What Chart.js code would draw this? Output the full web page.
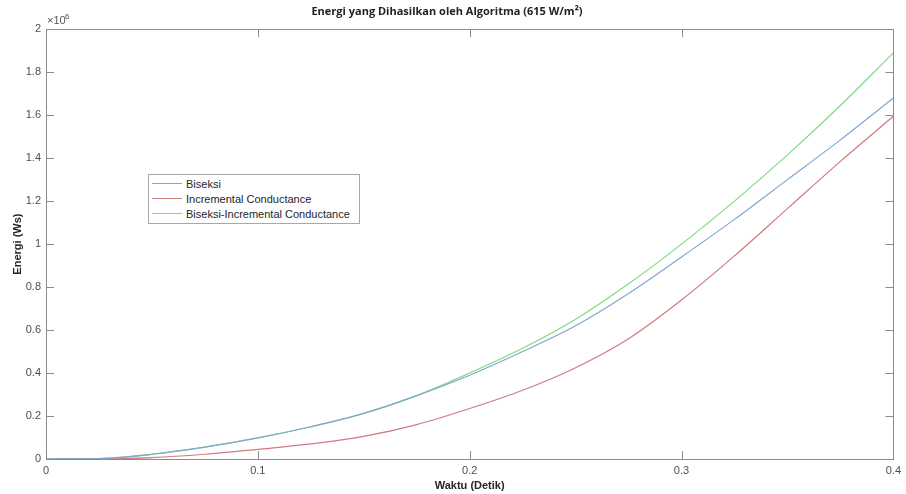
<!DOCTYPE html>
<html>
<head>
<meta charset="utf-8">
<script src="https://cdn.jsdelivr.net/npm/chart.js@4.4.1/dist/chart.umd.min.js"></script>
<style>
  body { margin: 0; background: #fff; }
  #wrap { position: relative; width: 906px; height: 494px; }
  #legend {
    position: absolute; left: 148px; top: 174px;
    width: 210px; padding: 1px 0 2px 0;
    background: #fff; border: 1px solid #a8a8a8;
    font: 11px "Liberation Sans", Arial, sans-serif; color: #262626;
  }
  .row { display: flex; align-items: center; height: 15px; }
  .swatch { display: block; flex: none; width: 30px; height: 1.5px; margin: 0 4px 0 3px; }
</style>
</head>
<body>
<div id="wrap">
  <canvas id="my-chart" width="906" height="494"></canvas>
  <div id="legend"></div>
</div>
<script>
'use strict';

// ************* Data (energi in 10^6 Ws) **************
let waktu = [0, 0.025, 0.05, 0.075, 0.1, 0.125, 0.15, 0.175, 0.2, 0.225, 0.25, 0.275, 0.3, 0.325, 0.35, 0.375, 0.4];
let biseksi = [0, 0.002, 0.022, 0.055, 0.098, 0.15, 0.212, 0.295, 0.39, 0.50, 0.62, 0.77, 0.94, 1.115, 1.30, 1.485, 1.68];
let incCond = [0, 0, 0.006, 0.022, 0.045, 0.07, 0.105, 0.16, 0.235, 0.32, 0.425, 0.56, 0.74, 0.945, 1.165, 1.385, 1.595];
let biseksiInc = [0, 0.002, 0.022, 0.055, 0.098, 0.15, 0.212, 0.295, 0.40, 0.515, 0.65, 0.815, 1.0, 1.2, 1.415, 1.645, 1.89];

let seriesNames = ['Biseksi', 'Incremental Conductance', 'Biseksi-Incremental Conductance'];
let seriesColors = ['#7fa7cf', '#cf7b80', '#7fdb7f'];
let xTicks = [0, 0.1, 0.2, 0.3, 0.4];
let yTicks = [0, 0.2, 0.4, 0.6, 0.8, 1, 1.2, 1.4, 1.6, 1.8, 2];

let fontFam = '"Liberation Sans", Arial, sans-serif';

function toPoints(arr){
  let pts = [];
  for(let i = 0; i < waktu.length; i++){
    pts.push({x: waktu[i], y: arr[i]});
  }
  return pts;
}

// ************ box, inward ticks and exponent label *************
let matlabAxes = {
  id: 'matlabAxes',
  afterDraw(chart){
    let ctx = chart.ctx;
    let a = chart.chartArea;
    let xs = chart.scales.x;
    let ys = chart.scales.y;
    ctx.save();
    ctx.strokeStyle = '#8c8c8c';
    ctx.lineWidth = 1;
    ctx.strokeRect(Math.round(a.left) + 0.5, Math.round(a.top) + 0.5, Math.round(a.right - a.left), Math.round(a.bottom - a.top));
    ctx.beginPath();
    xTicks.forEach(v => {
      let px = Math.round(xs.getPixelForValue(v)) + 0.5;
      ctx.moveTo(px, a.bottom); ctx.lineTo(px, a.bottom - 8);
      ctx.moveTo(px, a.top); ctx.lineTo(px, a.top + 8);
    });
    yTicks.forEach(v => {
      let py = Math.round(ys.getPixelForValue(v)) + 0.5;
      ctx.moveTo(a.left, py); ctx.lineTo(a.left + 8, py);
      ctx.moveTo(a.right, py); ctx.lineTo(a.right - 8, py);
    });
    ctx.stroke();
    ctx.fillStyle = '#555';
    ctx.font = '11px ' + fontFam;
    ctx.textBaseline = 'alphabetic';
    ctx.fillText('\u00d710', a.left + 1, a.top - 5);
    ctx.font = '8px ' + fontFam;
    ctx.fillText('6', a.left + 19, a.top - 10);
    ctx.restore();
  }
};

let canvasElem = document.getElementById('my-chart');

let datasets = [biseksi, incCond, biseksiInc].map((arr, i) => ({
  label: seriesNames[i],
  data: toPoints(arr),
  borderColor: seriesColors[i],
  borderWidth: 1.2,
  pointRadius: 0,
  fill: false,
  cubicInterpolationMode: 'monotone'
}));

new Chart(canvasElem, {
  type: 'line',
  data: { datasets: datasets },
  options: {
    responsive: false,
    animation: false,
    layout: { padding: { left: 0, right: 12, top: 0, bottom: 0 } },
    plugins: {
      legend: { display: false },
      tooltip: { enabled: false },
      title: {
        display: true,
        text: 'Energi yang Dihasilkan oleh Algoritma (615 W/m\u00b2)',
        color: '#222',
        font: { family: '"Open Sans", sans-serif', size: 11, weight: 'bold' },
        padding: { top: 5, bottom: 11 }
      }
    },
    scales: {
      x: {
        type: 'linear',
        min: 0, max: 0.4,
        grid: { display: false, drawTicks: false },
        border: { display: false },
        afterBuildTicks: s => { s.ticks = xTicks.map(v => ({ value: v })); },
        afterFit: s => { s.height = 35; },
        ticks: {
          color: '#4d4d4d', padding: 5,
          font: { family: fontFam, size: 11 },
          callback: v => String(v)
        },
        title: {
          display: true, text: 'Waktu (Detik)', color: '#262626',
          font: { family: fontFam, size: 11, weight: 'bold' },
          padding: { top: 2, bottom: 1.5 }
        }
      },
      y: {
        min: 0, max: 2,
        grid: { display: false, drawTicks: false },
        border: { display: false },
        afterBuildTicks: s => { s.ticks = yTicks.map(v => ({ value: v })); },
        afterFit: s => { s.width = 46; },
        ticks: {
          color: '#4d4d4d', padding: 5,
          font: { family: fontFam, size: 11 },
          callback: v => String(v)
        },
        title: {
          display: true, text: 'Energi (Ws)', color: '#262626',
          font: { family: fontFam, size: 11, weight: 'bold' },
          padding: { top: 11, bottom: 0 }
        }
      }
    }
  },
  plugins: [matlabAxes]
});

// ************ legend box *************
let legendElem = document.getElementById('legend');
seriesNames.forEach((name, i) => {
  let row = document.createElement('div');
  row.className = 'row';
  let sw = document.createElement('span');
  sw.className = 'swatch';
  sw.style.background = seriesColors[i];
  let txt = document.createElement('span');
  txt.textContent = name;
  row.appendChild(sw);
  row.appendChild(txt);
  legendElem.appendChild(row);
});
</script>
</body>
</html>
